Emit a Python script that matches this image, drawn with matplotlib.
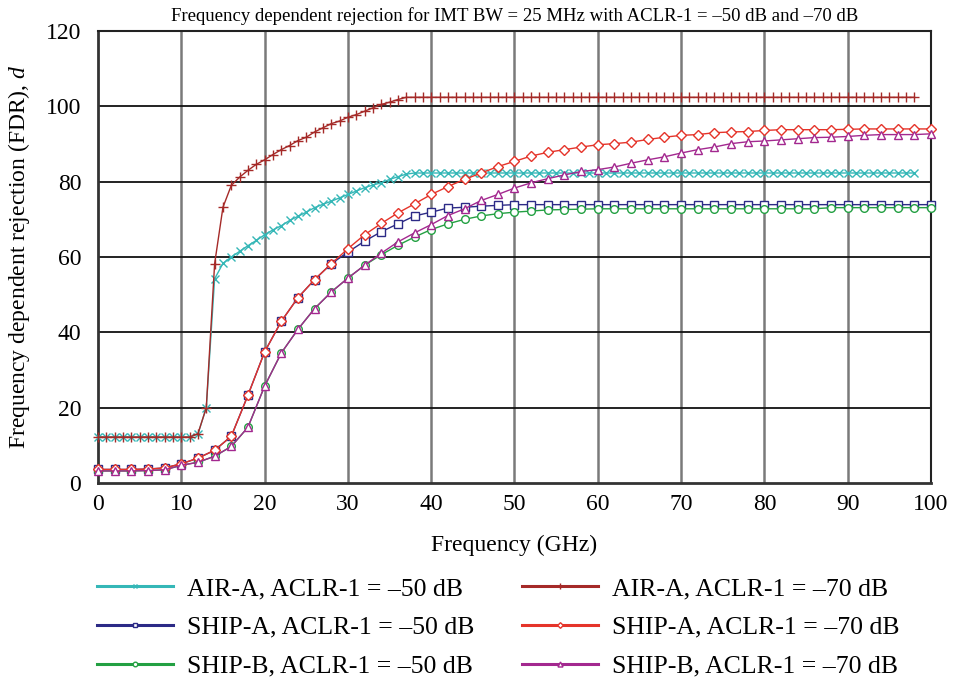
import matplotlib
matplotlib.use("Agg")
import matplotlib.pyplot as plt

plt.rcParams["font.family"] = ["Liberation Serif", "DejaVu Serif"]
plt.rcParams["mathtext.fontset"] = "custom"
plt.rcParams["mathtext.it"] = "Liberation Serif:italic"
plt.rcParams["mathtext.rm"] = "Liberation Serif"

# Frequency grids (GHz)
freq_air = list(range(0, 99, 1))
freq_ship = list(range(0, 101, 2))

# FDR (dB), AIR-A
air_a_50 = [12.2, 12.2, 12.2, 12.2, 12.2, 12.2, 12.2, 12.2, 12.2, 12.2,
            12.2, 12.2, 13.0, 20.0, 54.2, 58.3, 60.0, 61.5, 63.0, 64.4,
            65.9, 67.2, 68.3, 69.7, 70.8, 71.9, 73.1, 74.0, 74.8, 75.7,
            76.6, 77.5, 78.4, 79.1, 79.7, 80.6, 81.3, 82.0, 82.3, 82.3,
            82.3, 82.3, 82.3, 82.3, 82.3, 82.3, 82.3, 82.3, 82.3, 82.3,
            82.3, 82.3, 82.3, 82.3, 82.3, 82.3, 82.3, 82.3, 82.3, 82.3,
            82.3, 82.3, 82.3, 82.3, 82.3, 82.3, 82.3, 82.3, 82.3, 82.3,
            82.3, 82.3, 82.3, 82.3, 82.3, 82.3, 82.3, 82.3, 82.3, 82.3,
            82.3, 82.3, 82.3, 82.3, 82.3, 82.3, 82.3, 82.3, 82.3, 82.3,
            82.3, 82.3, 82.3, 82.3, 82.3, 82.3, 82.3, 82.3, 82.3]
air_a_70 = [12.2, 12.2, 12.2, 12.2, 12.2, 12.2, 12.2, 12.2, 12.2, 12.2,
            12.2, 12.2, 13.1, 20.0, 58.2, 73.2, 79.0, 81.2, 83.0, 84.6,
            85.8, 87.2, 88.5, 89.6, 90.9, 91.8, 93.2, 94.3, 95.4, 96.1,
            97.1, 97.8, 98.7, 99.6, 100.5, 101.1, 101.8, 102.4, 102.4, 102.4,
            102.4, 102.4, 102.4, 102.4, 102.4, 102.4, 102.4, 102.4, 102.4, 102.4,
            102.4, 102.4, 102.4, 102.4, 102.4, 102.4, 102.4, 102.4, 102.4, 102.4,
            102.4, 102.4, 102.4, 102.4, 102.4, 102.4, 102.4, 102.4, 102.4, 102.4,
            102.4, 102.4, 102.4, 102.4, 102.4, 102.4, 102.4, 102.4, 102.4, 102.4,
            102.4, 102.4, 102.4, 102.4, 102.4, 102.4, 102.4, 102.4, 102.4, 102.4,
            102.4, 102.4, 102.4, 102.4, 102.4, 102.4, 102.4, 102.4, 102.4]

# FDR (dB), SHIP-A
ship_a_50 = [3.6, 3.6, 3.6, 3.7, 4.0, 5.1, 6.6, 8.7, 12.4, 23.3,
             34.8, 42.9, 49.2, 54.0, 58.2, 61.3, 64.2, 66.7, 68.8, 70.9,
             71.9, 73.0, 73.2, 73.5, 73.7, 73.9, 73.9, 73.9, 73.9, 73.9,
             73.9, 73.9, 73.9, 73.9, 73.9, 73.9, 73.9, 73.9, 73.9, 73.9,
             73.9, 73.9, 73.9, 73.9, 73.9, 73.9, 73.9, 73.9, 73.9, 73.9,
             73.9]
ship_a_70 = [3.6, 3.6, 3.6, 3.7, 4.0, 5.1, 6.6, 8.7, 12.4, 23.3,
             34.8, 42.9, 49.2, 54.0, 58.2, 62.2, 65.9, 68.9, 71.7, 74.1,
             76.6, 78.7, 80.6, 82.3, 84.0, 85.4, 86.8, 87.8, 88.5, 89.2,
             89.8, 90.1, 90.5, 91.2, 91.8, 92.3, 92.5, 93.0, 93.2, 93.3,
             93.6, 93.8, 93.8, 93.8, 93.8, 93.9, 94.0, 94.0, 94.0, 94.0,
             94.0]

# FDR (dB), SHIP-B
ship_b_50 = [3.2, 3.2, 3.2, 3.3, 3.5, 4.7, 5.5, 7.1, 9.7, 14.8,
             25.7, 34.5, 40.8, 46.3, 50.7, 54.4, 57.8, 60.6, 63.1, 65.3,
             67.3, 68.8, 70.0, 70.9, 71.5, 71.9, 72.2, 72.5, 72.6, 72.7,
             72.8, 72.8, 72.8, 72.8, 72.8, 72.8, 72.8, 72.8, 72.8, 72.8,
             72.8, 72.8, 72.8, 72.8, 73.1, 73.1, 73.1, 73.1, 73.1, 73.1,
             73.1]
ship_b_70 = [3.2, 3.2, 3.2, 3.3, 3.5, 4.7, 5.5, 7.1, 9.7, 14.8,
             25.7, 34.5, 40.8, 46.3, 50.7, 54.4, 57.8, 61.0, 64.0, 66.4,
             68.6, 71.0, 72.8, 75.0, 76.6, 78.3, 79.7, 80.8, 81.8, 82.7,
             83.2, 83.9, 84.9, 85.8, 86.6, 87.6, 88.5, 89.2, 90.1, 90.6,
             90.8, 91.1, 91.4, 91.7, 91.8, 92.0, 92.3, 92.5, 92.5, 92.5,
             92.7]

labels = ["AIR-A, ACLR-1 = \u201350 dB", "SHIP-A, ACLR-1 = \u201350 dB",
          "SHIP-B, ACLR-1 = \u201350 dB", "AIR-A, ACLR-1 = \u201370 dB",
          "SHIP-A, ACLR-1 = \u201370 dB", "SHIP-B, ACLR-1 = \u201370 dB"]
x_ticks = [0, 10, 20, 30, 40, 50, 60, 70, 80, 90, 100]
y_ticks = [0, 20, 40, 60, 80, 100, 120]

series = [
    (freq_air, air_a_50, "#35b7b7", "x", 5.5, "full"),
    (freq_ship, ship_a_50, "#2c2a86", "s", 5.5, "none"),
    (freq_ship, ship_b_50, "#23a042", "o", 5.5, "none"),
    (freq_air, air_a_70, "#a52a28", "+", 7.0, "full"),
    (freq_ship, ship_a_70, "#e5342a", "D", 4.8, "none"),
    (freq_ship, ship_b_70, "#a3288f", "^", 6.0, "none"),
]

fig = plt.figure(figsize=(9.54, 6.81), dpi=100)
ax = fig.add_axes([98 / 954, 1 - 483 / 681, 833 / 954, 452 / 681])

handles = []
for (xs, ys, col, mk, ms, fill), lab in zip(series, labels):
    h, = ax.plot(xs, ys, color=col, lw=1.0, marker=mk, markersize=ms,
                 markerfacecolor="white" if fill == "none" else col,
                 markeredgecolor=col, markeredgewidth=1.0, label=lab,
                 clip_on=False, zorder=3)
    handles.append(h)

ax.set_xlim(0, 100)
ax.set_ylim(0, 120)
ax.set_xticks(x_ticks)
ax.set_yticks(y_ticks)
ax.tick_params(axis="both", length=0, labelsize=17)
ax.tick_params(axis="x", pad=8)
ax.tick_params(axis="y", pad=12)

for xv in x_ticks[1:-1]:
    ax.axvline(xv, color="#7a7a7a", lw=1.8, zorder=1)
for yv in y_ticks[1:-1]:
    ax.axhline(yv, color="#111111", lw=1.3, zorder=1)

for side in ["left", "bottom"]:
    ax.spines[side].set_linewidth(2.0)
    ax.spines[side].set_color("#333333")
for side in ["top", "right"]:
    ax.spines[side].set_linewidth(1.5)
    ax.spines[side].set_color("#222222")

ax.set_xlabel("Frequency (GHz)", fontsize=17, labelpad=14)
ax.set_ylabel(r"Frequency dependent rejection (FDR), $\mathit{d}$",
              fontsize=17, labelpad=10)
ax.set_title("Frequency dependent rejection for IMT BW = 25 MHz with "
             "ACLR-1 = \u201350 dB and \u201370 dB", fontsize=13.5, pad=7)

leg = fig.legend(handles=handles, labels=labels, ncol=2, frameon=False,
                 loc="upper left", bbox_to_anchor=(97 / 954, 1 - 577 / 681),
                 fontsize=18.5, handlelength=2.95, handletextpad=0.55,
                 columnspacing=1.85, labelspacing=0.62, markerscale=0.6,
                 borderaxespad=0, borderpad=0)
for line in leg.get_lines():
    line.set_linewidth(2.2)

fig.savefig("out.png", dpi=100)
